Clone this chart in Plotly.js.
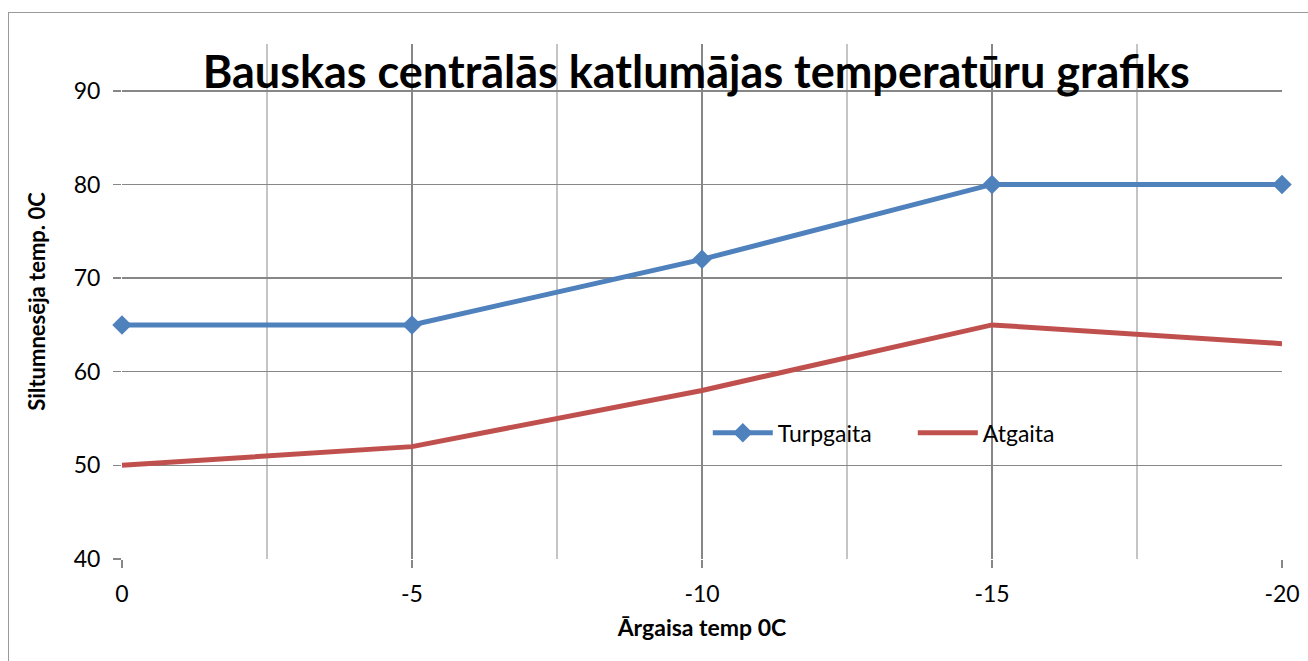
<!DOCTYPE html>
<html><head><meta charset="utf-8">
<script src="https://cdn.plot.ly/plotly-3.0.1.min.js"></script>
<style>
html,body{margin:0;padding:0;background:#fff;overflow:hidden;}
#frame{position:absolute;left:8px;top:12px;width:1320px;height:700px;border:1.5px solid #9a9a9a;box-sizing:border-box;pointer-events:none;z-index:5;}
#chart{position:absolute;left:0;top:0;width:1308px;height:661px;}
</style>
</head><body>
<div id="chart"></div><div id="frame"></div>
<script>
const categories = [0, -5, -10, -15, -20];
const tickLabels = ['0', '-5', '-10', '-15', '-20'];
const turpgaita = [65, 65, 72, 80, 80];
const atgaita = [50, 52, 58, 65, 63];

const FONT = 'Lato, "Liberation Sans", sans-serif';

const data = [
  {x: categories, y: turpgaita, name: 'Turpgaita', type: 'scatter', mode: 'lines+markers', cliponaxis: false,
   line: {color: '#4f81bd', width: 5}, marker: {symbol: 'diamond', size: 15, color: '#4f81bd'}},
  {x: categories, y: atgaita, name: 'Atgaita', type: 'scatter', mode: 'lines', cliponaxis: false,
   line: {color: '#c0504d', width: 5}}
];

const layout = {
  width: 1308, height: 661,
  margin: {l: 122, r: 26, t: 44, b: 102},
  paper_bgcolor: '#fff', plot_bgcolor: '#fff',
  font: {family: FONT, size: 22, color: '#000'},
  showlegend: true,
  title: {text: '<b>Bauskas centrālās katlumājas temperatūru grafiks</b>',
    font: {family: FONT, size: 45, color: '#000'},
    x: 0.495, xanchor: 'center', y: 0.89, yanchor: 'middle', xref: 'paper', yref: 'container'},
  xaxis: {
    range: [0, -20], tickvals: categories, ticktext: tickLabels,
    showgrid: true, gridcolor: '#878787', gridwidth: 1.5,
    ticks: 'outside', ticklen: 8, tickcolor: '#878787', tickwidth: 1.5,
    ticklabelstandoff: 6,
    minor: {dtick: 2.5, tick0: 0, showgrid: true, gridcolor: '#c4c4c4', gridwidth: 1.5, ticks: ''},
    zeroline: false, showline: false,
    tickfont: {family: FONT, size: 23},
    title: {text: '<b>Ārgaisa temp 0C</b>', font: {family: FONT, size: 23}, standoff: 14}
  },
  yaxis: {
    range: [40, 95], tickvals: [40, 50, 60, 70, 80, 90],
    showgrid: true, gridcolor: '#878787', gridwidth: 1.5,
    ticks: 'outside', ticklen: 8, tickcolor: '#878787', tickwidth: 1.5,
    ticklabelstandoff: 8,
    zeroline: false, showline: false,
    tickfont: {family: FONT, size: 23},
    title: {text: '<b>Siltumnesēja temp. 0C</b>', font: {family: FONT, size: 22}, standoff: 22}
  },
  legend: {orientation: 'h', x: 0.505, y: 0.245, xanchor: 'left', yanchor: 'middle',
    bgcolor: 'rgba(0,0,0,0)', font: {family: FONT, size: 23}, itemwidth: 60,
    entrywidth: 130, tracegroupgap: 0}
};

Plotly.newPlot('chart', data, layout, {displayModeBar: false, staticPlot: true});
</script>
</body></html>
